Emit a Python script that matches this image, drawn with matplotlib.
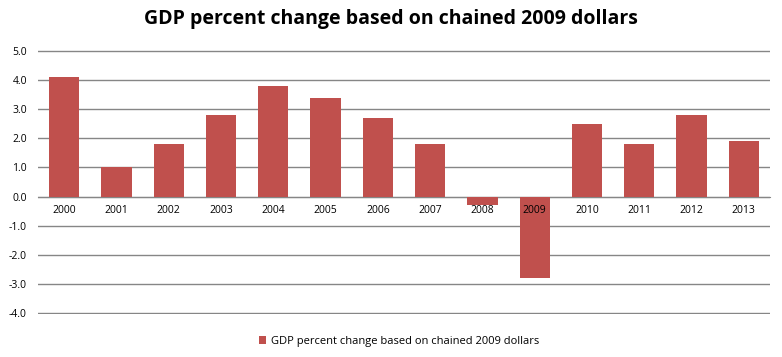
import matplotlib.pyplot as plt
import numpy as np

years = ["2000", "2001", "2002", "2003", "2004", "2005", "2006",
         "2007", "2008", "2009", "2010", "2011", "2012", "2013"]
gdp_change = [4.1, 1.0, 1.8, 2.8, 3.8, 3.4, 2.7, 1.8, -0.3, -2.8, 2.5, 1.8, 2.8, 1.9]
series_name = "GDP percent change based on chained 2009 dollars"

plt.rcParams["font.family"] = ["Open Sans", "DejaVu Sans"]

fig = plt.figure(figsize=(7.82, 3.57), dpi=100)
ax = fig.add_axes([0.0486, 0.1204, 0.936, 0.7396])

x = np.arange(len(years))
ax.bar(x, gdp_change, width=0.58, color="#C0504D", label=series_name, zorder=3)

ax.set_xlim(-0.5, len(years) - 0.5)
ax.set_ylim(-4.04, 5.04)
ticks = np.arange(-4, 5.1, 1)
ax.set_yticks(ticks)
ax.set_yticklabels([f"{v:.1f}" for v in ticks], fontsize=7.5)
ax.yaxis.grid(True, color="#868686", linewidth=1)
ax.tick_params(axis="y", length=0, pad=8)

ax.spines["bottom"].set_position(("data", 0))
ax.spines["bottom"].set_color("#868686")
for s in ["top", "right", "left"]:
    ax.spines[s].set_visible(False)
ax.set_xticks(x)
ax.set_xticklabels(years, fontsize=7.5)
ax.tick_params(axis="x", length=0, pad=6)
ax.set_axisbelow(True)
# year labels sit on top of the bars (2009 label overlaps its bar)
ax.xaxis.set_zorder(5)

fig.suptitle(series_name, fontsize=14, fontweight="bold", y=0.975)
fig.legend(loc="lower center", bbox_to_anchor=(0.51, 0.0), frameon=False,
           fontsize=8, handlelength=0.7, handleheight=0.7, handletextpad=0.4)

fig.savefig("out.png", dpi=100)
